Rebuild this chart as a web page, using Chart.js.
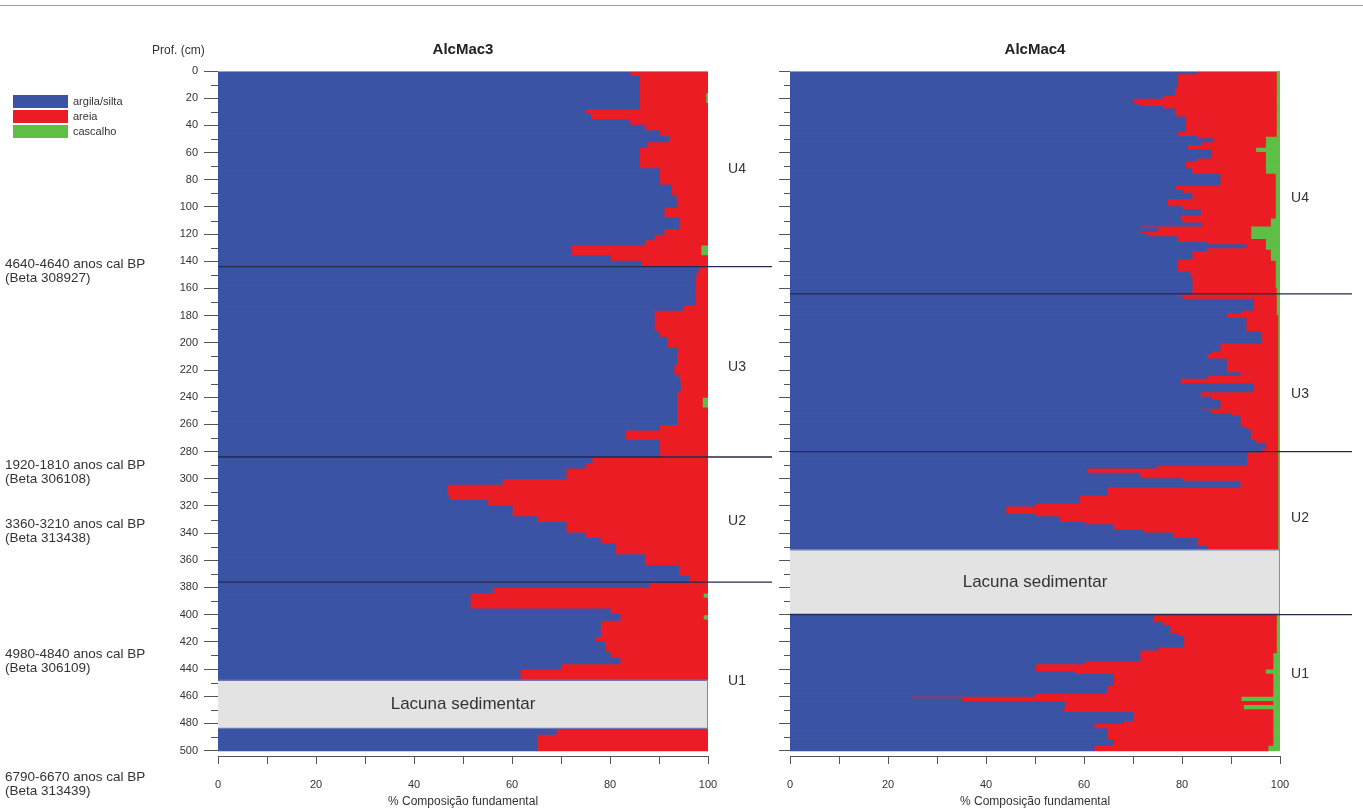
<!DOCTYPE html>
<html>
<head>
<meta charset="utf-8">
<script src="https://cdn.jsdelivr.net/npm/chart.js@4.4.1/dist/chart.umd.min.js"></script>
<style>
  html, body { margin: 0; padding: 0; background: #ffffff; }
  body { width: 1363px; height: 812px; position: relative; overflow: hidden;
         font-family: "Liberation Sans", Arial, sans-serif; color: #333; }
  canvas { position: absolute; top: 0; }
  .t { position: absolute; white-space: nowrap; line-height: 1; }
  .box { position: absolute; width: 55px; height: 13px; }
</style>
</head>
<body>
<div style="position:absolute;left:0;top:5px;width:1363px;height:1px;background:#9a9a9a"></div>
<canvas id="cL" width="780" height="812" style="left:0px"></canvas>
<canvas id="cR" width="603" height="812" style="left:760px"></canvas>
<div id="labels"></div>
<script>
// ---------------- DATA ----------------
// AlcMac3: samples every 4 cm (interval top = index * 4), null = lacuna sedimentar
const depthStepL = 4;
const argilaL = [84,86,86,86,86,86,86,75,76,84,
  87,90,92,87.5,86,86,86,86,90,90,
  90,92.5,92.5,93.5,93.5,91,91,94,94,91,
  89,87,72,72,80,86.4,98,97.5,97.3,97.3,
  97.3,97.3,97.3,95,89,89,89,89,90,91.5,
  91.5,93.6,93.6,93.6,93,93,94,94.3,94.3,93.6,
  93.6,93.6,93.6,93.6,93.6,90,83,83,90,90,
  90,76.3,75,71,71,58,46.7,46.7,47,55,
  60,60,65,71,71,75,78,81,81,87,
  87,94,94,96,88,56,51.4,51.4,51.4,80,
  82,78,78,78,77,79,79,80,82,70,
  61.6,61.6,null,null,null,null,null,null,null,null,
  null,69,65,65,65];
const areiaL = [16,14,14,14,13.5,13.5,14,25,24,16,
  13,10,8,12.5,14,14,14,14,10,10,
  10,7.5,7.5,6.5,6.5,9,9,6,6,9,
  11,13,26.5,26.5,20,13.6,2,2.5,2.7,2.7,
  2.7,2.7,2.7,5,11,11,11,11,10,8.5,
  8.5,6.4,6.4,6.4,7,7,6,5.7,5.7,6.4,
  5.2,5.2,6.4,6.4,6.4,10,17,17,10,10,
  10,23.7,25,29,29,42,53.3,53.3,53,45,
  40,40,35,29,29,25,22,19,19,13,
  13,6,6,4,12,44,47.6,48.6,48.6,20,
  17,22,22,22,23,21,21,20,18,30,
  38.4,38.4,null,null,null,null,null,null,null,null,
  null,31,35,35,35];
const cascalhoL = [0,0,0,0,0.5,0.5,0,0,0,0,
  0,0,0,0,0,0,0,0,0,0,
  0,0,0,0,0,0,0,0,0,0,
  0,0,1.5,1.5,0,0,0,0,0,0,
  0,0,0,0,0,0,0,0,0,0,
  0,0,0,0,0,0,0,0,0,0,
  1.2,1.2,0,0,0,0,0,0,0,0,
  0,0,0,0,0,0,0,0,0,0,
  0,0,0,0,0,0,0,0,0,0,
  0,0,0,0,0,0,1,0,0,0,
  1,0,0,0,0,0,0,0,0,0,
  0,0,null,null,null,null,null,null,null,null,
  null,0,0,0,0];

// AlcMac4: samples every 2 cm (interval top = index * 2), null = lacuna sedimentar
const depthStepR = 2;
const argilaR = [83,79,79,79,79,79,78.5,78.5,78.5,76,
  70,70,71,76,78.5,78.5,78.5,80.6,80.6,80.6,
  80.6,80.6,79,79,83,86.4,84,81,81,86,
  86,86,83,80.6,80.6,80.6,82,82,87.7,87.7,
  87.7,87.7,78.5,78.5,80,82,82,77,77,77,
  80,83.7,83.7,79.6,79.6,80,84,71.4,75,71.4,
  73,79,79,85,93,85,82,82,82,79,
  79,79,79,79,81.6,81.6,82,82,82,82,
  82,82,78.5,80,94.5,94.5,94.5,94.5,92,89,
  89,93,93,93,93,93,96,96,96,96,
  87.7,87.7,87.7,86,85,85,89,89,89,89,
  89,91.8,85,79.6,79.6,94.5,94.5,94.5,83.7,83.7,
  86,87.7,87.7,87.7,84,86,90,91.8,91.8,91.8,
  91.8,93,93.9,93.9,93.9,93.9,95,97,97,96,
  93.2,93.2,93.2,93.2,93.2,75,60.5,60.5,71.4,71.4,
  80,91.8,91.8,64.6,64.6,64.6,59,59,59,50,
  44,44,44,50,55,55,60,66,66,72,
  78,78,83,83,83,85,null,null,null,null,
  null,null,null,null,null,null,null,null,null,null,
  null,null,null,null,null,null,null,null,null,null,
  74,74,74,76,77.5,77.5,77.5,79,80.3,80.3,
  80.3,80.3,75,71.4,71.4,71.4,71.4,60,50,50,
  50,58,66,66,66,66,64.6,64.6,64.6,50,
  24.6,35,56,56,55.8,55.8,70,70,70,68,
  62,62,64.6,64.6,64.6,64.6,66,66,62,62];
const areiaR = [16.2,20.2,20.2,20.2,20.2,20.2,20.7,20.7,20.7,23.2,
  29.2,29.2,28.2,23.2,20.7,20.7,20.7,18.6,18.6,18.6,
  18.6,18.6,20.2,20.2,14,10.6,13,16,14,9,
  11,11,14,16.4,16.4,16.4,15,15,11.3,11.3,
  11.3,11.3,20.5,20.5,19,17,17,22,22,22,
  19,15.3,15.3,19.4,18.4,18,14,22.6,19,22.6,
  21,15,18,12,4,12,16,16,16,19,
  20,20,20,20,17.4,17.4,17,17,17,17,
  17.2,17.2,20.7,19.2,4.7,4.7,4.7,4.7,7.2,10.2,
  10.5,6.5,6.5,6.5,6.5,6.5,3.5,3.5,3.5,3.5,
  11.8,11.8,11.8,13.5,14.5,14.5,10.5,10.5,10.5,10.5,
  10.5,7.7,14.5,19.9,19.9,5,5,5,15.8,15.8,
  13.5,11.8,11.8,11.8,15.5,13.5,9.5,7.7,7.7,7.7,
  7.7,6.5,5.6,5.6,5.6,5.6,4.5,2.5,2.5,3.5,
  6.3,6.3,6.3,6.3,6.3,24.5,39,39,28.1,28.1,
  19.5,7.7,7.7,34.9,34.9,34.9,40.5,40.5,40.5,49.5,
  55.5,55.5,55.5,49.5,44.5,44.5,39.5,33.5,33.5,27.5,
  21.5,21.5,16.5,16.5,16.5,14.5,null,null,null,null,
  null,null,null,null,null,null,null,null,null,null,
  null,null,null,null,null,null,null,null,null,null,
  25.2,25.2,25.2,23.2,21.7,21.7,21.7,20.2,18.9,18.9,
  18.9,18.9,24.2,27.8,27.1,27.1,27.1,38.5,48.5,48.5,
  47,39,32.5,32.5,32.5,32.5,33.9,33.9,33.9,48.5,
  67.4,57,42.5,36.5,36.7,42.7,28.5,28.5,28.5,30.5,
  36.5,36.5,33.9,33.9,33.9,33.9,32.5,32.5,35.5,35.5];
const cascalhoR = [0.8,0.8,0.8,0.8,0.8,0.8,0.8,0.8,0.8,0.8,
  0.8,0.8,0.8,0.8,0.8,0.8,0.8,0.8,0.8,0.8,
  0.8,0.8,0.8,0.8,3,3,3,3,5,5,
  3,3,3,3,3,3,3,3,1,1,
  1,1,1,1,1,1,1,1,1,1,
  1,1,1,1,2,2,2,6,6,6,
  6,6,3,3,3,3,2,2,2,2,
  1,1,1,1,1,1,1,1,1,1,
  0.8,0.8,0.8,0.8,0.8,0.8,0.8,0.8,0.8,0.8,
  0.5,0.5,0.5,0.5,0.5,0.5,0.5,0.5,0.5,0.5,
  0.5,0.5,0.5,0.5,0.5,0.5,0.5,0.5,0.5,0.5,
  0.5,0.5,0.5,0.5,0.5,0.5,0.5,0.5,0.5,0.5,
  0.5,0.5,0.5,0.5,0.5,0.5,0.5,0.5,0.5,0.5,
  0.5,0.5,0.5,0.5,0.5,0.5,0.5,0.5,0.5,0.5,
  0.5,0.5,0.5,0.5,0.5,0.5,0.5,0.5,0.5,0.5,
  0.5,0.5,0.5,0.5,0.5,0.5,0.5,0.5,0.5,0.5,
  0.5,0.5,0.5,0.5,0.5,0.5,0.5,0.5,0.5,0.5,
  0.5,0.5,0.5,0.5,0.5,0.5,null,null,null,null,
  null,null,null,null,null,null,null,null,null,null,
  null,null,null,null,null,null,null,null,null,null,
  0.8,0.8,0.8,0.8,0.8,0.8,0.8,0.8,0.8,0.8,
  0.8,0.8,0.8,0.8,1.5,1.5,1.5,1.5,1.5,1.5,
  3,3,1.5,1.5,1.5,1.5,1.5,1.5,1.5,1.5,
  8,8,1.5,7.5,7.5,1.5,1.5,1.5,1.5,1.5,
  1.5,1.5,1.5,1.5,1.5,1.5,1.5,1.5,2.5,2.5];

// depth structure (cm)
const lacunaL = [448, 484];
const lacunaR = [352, 400];
const unitBoundsL = [144, 284, 376];
const unitBoundsR = [164, 280, 400];
const depthMax = 504;
const xTickValues = [0, 20, 40, 60, 80, 100];
const seriesNames = ['argila/silta', 'areia', 'cascalho'];
const seriesColors = ['#3a53a4', '#ec1c24', '#5dbf46'];

// ---------------- CHARTS ----------------
Chart.defaults.font.family = '"Liberation Sans", Arial, sans-serif';
Chart.defaults.color = '#333';

const depthsL = argilaL.map((_, i) => i * depthStepL + depthStepL / 2);
const depthsR = argilaR.map((_, i) => i * depthStepR + depthStepR / 2);
const minorTicks = [];
for (let d = 10; d < 500; d += 20) minorTicks.push(d);

const overlayPlugin = {
  id: 'overlay',
  afterDatasetsDraw(chart, args, o) {
    const {ctx, chartArea: a} = chart;
    const x = chart.scales.x, y = chart.scales.y;
    ctx.save();
    // minor depth ticks
    ctx.strokeStyle = '#555'; ctx.lineWidth = 1;
    o.minorTicks.forEach(v => {
      const py = Math.round(y.getPixelForValue(v)) + 0.5;
      ctx.beginPath(); ctx.moveTo(a.left - o.minorLen, py); ctx.lineTo(a.left, py); ctx.stroke();
    });
    // top frame line
    ctx.strokeStyle = '#9aa0b4';
    ctx.beginPath(); ctx.moveTo(a.left, a.top + 0.5); ctx.lineTo(x.getPixelForValue(100), a.top + 0.5); ctx.stroke();
    // lacuna
    const x0 = x.getPixelForValue(0), x1 = x.getPixelForValue(100);
    const t = y.getPixelForValue(o.lacuna[0]), b = y.getPixelForValue(o.lacuna[1]);
    ctx.fillStyle = '#e3e3e3';
    ctx.fillRect(x0, t, x1 - x0, b - t);
    ctx.strokeStyle = '#5a6aa8'; ctx.lineWidth = 1;
    ctx.beginPath(); ctx.moveTo(x0, t + 0.5); ctx.lineTo(x1, t + 0.5); ctx.stroke();
    ctx.beginPath(); ctx.moveTo(x0, b - 0.5); ctx.lineTo(x1, b - 0.5); ctx.stroke();
    ctx.strokeStyle = '#8c8c8c';
    ctx.beginPath(); ctx.moveTo(x1 - 0.5, t); ctx.lineTo(x1 - 0.5, b); ctx.stroke();
    ctx.fillStyle = '#333';
    ctx.font = '17px "Liberation Sans", Arial, sans-serif';
    ctx.textAlign = 'center'; ctx.textBaseline = 'middle';
    ctx.fillText('Lacuna sedimentar', (x0 + x1) / 2, (t + b) / 2);
    // unit boundaries
    ctx.strokeStyle = '#252a4e'; ctx.lineWidth = 1.3;
    o.bounds.forEach(d => {
      const py = y.getPixelForValue(d);
      ctx.beginPath(); ctx.moveTo(a.left, py); ctx.lineTo(o.lineEnd, py); ctx.stroke();
    });
    ctx.restore();
  }
};

function makeChart(id, depths, argila, areia, cascalho, cfg) {
  const series = [argila, areia, cascalho];
  return new Chart(document.getElementById(id), {
    type: 'bar',
    data: {
      labels: depths,
      datasets: series.map((s, i) => ({
        label: seriesNames[i], data: s, backgroundColor: seriesColors[i],
        borderWidth: 0, inflateAmount: 0.6
      }))
    },
    options: {
      indexAxis: 'y',
      responsive: false,
      animation: false,
      events: [],
      datasets: { bar: { barPercentage: 1, categoryPercentage: 1 } },
      layout: { padding: cfg.padding },
      plugins: {
        legend: { display: false },
        tooltip: { enabled: false },
        title: { display: false },
        overlay: { minorTicks: minorTicks, minorLen: cfg.minorLen, lacuna: cfg.lacuna,
                   bounds: cfg.bounds, lineEnd: cfg.lineEnd }
      },
      scales: {
        x: {
          type: 'linear', stacked: true, min: 0, max: 100,
          afterFit: s => { s.height = 53; },
          ticks: { stepSize: 10, autoSkip: false, maxRotation: 0, padding: 14,
                   font: { size: 11 }, color: '#333',
                   callback: v => xTickValues.includes(v) ? String(v) : '' },
          grid: { drawOnChartArea: false, tickLength: 8, color: '#555' },
          border: { display: true, color: '#555' },
          title: { display: true, text: '% Composição fundamental', font: { size: 12 },
                   color: '#333', padding: { top: 0, bottom: 0 } }
        },
        y: {
          type: 'linear', stacked: true, reverse: true, min: 0, max: depthMax,
          offset: false,
          afterFit: s => { s.width = cfg.yWidth; },
          ticks: { stepSize: 20, autoSkip: false, includeBounds: false, display: cfg.showYLabels,
                   padding: 6, font: { size: 11 }, color: '#333' },
          grid: { drawOnChartArea: false, offset: false, tickLength: cfg.majorLen, color: '#555' },
          border: { display: false }
        }
      }
    },
    plugins: [overlayPlugin]
  });
}

makeChart('cL', depthsL, argilaL, areiaL, cascalhoL, {
  padding: { left: 158, right: 72, top: 71, bottom: 3 },
  yWidth: 60, majorLen: 14, minorLen: 7, showYLabels: true,
  lacuna: lacunaL, bounds: unitBoundsL, lineEnd: 772
});
makeChart('cR', depthsR, argilaR, areiaR, cascalhoR, {
  padding: { left: 10, right: 83, top: 71, bottom: 3 },
  yWidth: 20, majorLen: 11, minorLen: 6, showYLabels: false,
  lacuna: lacunaR, bounds: unitBoundsR, lineEnd: 592
});

// ---------------- ANNOTATIONS (text) ----------------
const host = document.getElementById('labels');
function place(text, x, y, opts = {}) {
  const d = document.createElement('div');
  d.className = 't';
  d.textContent = text;
  d.style.left = x + 'px';
  d.style.top = y + 'px';
  d.style.fontSize = (opts.size || 12) + 'px';
  if (opts.bold) d.style.fontWeight = 'bold';
  if (opts.color) d.style.color = opts.color;
  const tx = opts.align === 'center' ? '-50%' : (opts.align === 'right' ? '-100%' : '0');
  d.style.transform = `translate(${tx}, -50%)`;
  host.appendChild(d);
}
place('AlcMac3', 463, 48, { size: 15, bold: true, align: 'center', color: '#222' });
place('AlcMac4', 1035, 48, { size: 15, bold: true, align: 'center', color: '#222' });
place('Prof. (cm)', 152, 50, { size: 12 });

// legend
seriesNames.forEach((n, i) => {
  const b = document.createElement('div');
  b.className = 'box';
  b.style.left = '13px';
  b.style.top = (95 + i * 15) + 'px';
  b.style.background = seriesColors[i];
  host.appendChild(b);
  place(n, 73, 101 + i * 15, { size: 11 });
});

// radiocarbon dates
const dateLabels = [
  ['4640-4640 anos cal BP', '(Beta 308927)', 264],
  ['1920-1810 anos cal BP', '(Beta 306108)', 465],
  ['3360-3210 anos cal BP', '(Beta 313438)', 524],
  ['4980-4840 anos cal BP', '(Beta 306109)', 654],
  ['6790-6670 anos cal BP', '(Beta 313439)', 777]
];
dateLabels.forEach(([a, b, y]) => {
  place(a, 5, y, { size: 13.5 });
  place(b, 5, y + 14, { size: 13.5 });
});

// units
const unitLabels = [
  ['U4', 737, 168], ['U3', 737, 366], ['U2', 737, 520], ['U1', 737, 680],
  ['U4', 1300, 197], ['U3', 1300, 393], ['U2', 1300, 517], ['U1', 1300, 673]
];
unitLabels.forEach(([t, x, y]) => place(t, x, y, { size: 14, align: 'center' }));
</script>
</body>
</html>
